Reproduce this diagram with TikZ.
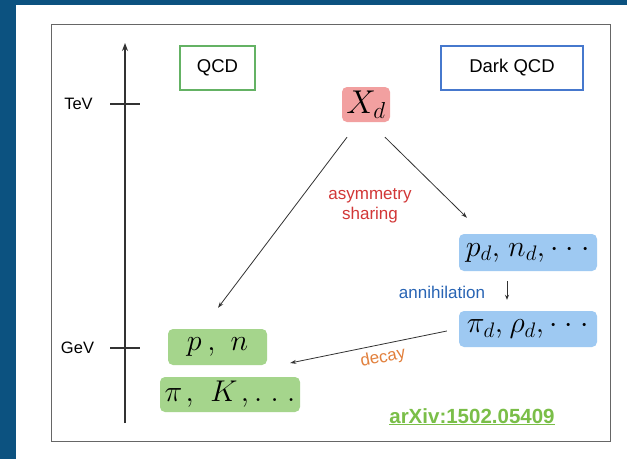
\RequirePackage{fix-cm}
\documentclass[tikz,border=0pt]{standalone}
\usepackage{fontspec}
\setmainfont{Liberation Sans}
\usetikzlibrary{arrows.meta,calc}
\definecolor{bgblue}{RGB}{12,82,128}
\definecolor{qcdgreen}{RGB}{100,178,100}
\definecolor{dqcdblue}{RGB}{70,120,205}
\definecolor{greenfill}{RGB}{165,213,140}
\definecolor{bluefill}{RGB}{158,201,242}
\definecolor{redfill}{RGB}{242,160,160}
\definecolor{labred}{RGB}{210,55,55}
\definecolor{labblue}{RGB}{40,100,180}
\definecolor{laborange}{RGB}{226,128,60}
\definecolor{arxivgreen}{RGB}{122,190,72}
\definecolor{linegray}{RGB}{50,50,50}
\newcommand{\dotsL}{\mathord{.}\mkern5mu\mathord{.}\mkern5mu\mathord{.}}
\newcommand{\dotsC}{\mathord{\cdotp}\mkern4.5mu\mathord{\cdotp}\mkern4.5mu\mathord{\cdotp}}
\tikzset{
  hdrbox/.style={draw, line width=1.1pt, fill=white, minimum height=44pt, inner sep=0pt,
     font=\fontsize{18.5}{20}\selectfont},
  mbox/.style={rounded corners=5pt, inner sep=0pt, minimum height=36pt,
     font=\fontsize{30}{32}\selectfont},
  conn/.style={draw=linegray, line width=0.8pt, -{Stealth[length=6pt,width=4pt]}},
  lab/.style={font=\fontsize{17}{19}\selectfont, inner sep=0pt},
  tick/.style={draw=linegray, line width=1.3pt}
}
\begin{document}
\begin{tikzpicture}[x=1pt,y=-1pt]
\useasboundingbox (0,0) rectangle (627,459);
\fill[bgblue] (0,0) rectangle (627,459);
\fill[white] (16,5) rectangle (627,459);
\draw[gray!80!black, line width=1pt] (51,24) rectangle (610,441);

% axis
\coordinate (axb) at (125,423);
\coordinate (axt) at (125,43);
\draw[linegray, line width=1.5pt, -{Stealth[length=8pt,width=6pt]}] (axb) -- (axt);
\coordinate (tevL) at (110,104);
\coordinate (tevR) at (140,104);
\coordinate (gevL) at (110,348);
\coordinate (gevR) at (140,348);
\draw[tick] (tevL) -- (tevR);
\draw[tick] (gevL) -- (gevR);
\node[lab, font=\fontsize{16.5}{18}\selectfont] (tev) at (78.5,104) {TeV};
\node[lab, font=\fontsize{16.5}{18}\selectfont] (gev) at (77.5,348) {GeV};

% header boxes
\node[hdrbox, draw=qcdgreen, minimum width=75pt] (qcd) at (217.5,68) {QCD};
\node[hdrbox, draw=dqcdblue, minimum width=142pt] (dqcd) at (512,68) {Dark QCD};

% particle boxes
\node[mbox, fill=redfill, minimum width=48pt, minimum height=35pt, font=\fontsize{33}{35}\selectfont] (xd) at (366,104.5) {$X_d$};
\node[mbox, fill=greenfill, minimum width=99pt] (pn) at (217.5,347) {$p\mkern3.5mu,\mkern6mu n$};
\node[mbox, fill=greenfill, minimum width=140pt, minimum height=35pt] (piK) at (230,394.5) {$\pi\mkern2mu,\mkern7mu K\mkern2mu,\dotsL$};
\node[mbox, fill=bluefill, minimum width=138pt, minimum height=37pt] (pdnd) at (528,252.5) {$p_d,\mkern2mu n_d,\dotsC$};
\node[mbox, fill=bluefill, minimum width=138pt] (pid) at (528,329) {$\pi_d,\mkern1mu \rho_d,\dotsC$};

% connectors
\coordinate (a1s) at ($(xd.south)+(-19,15)$);
\coordinate (a1e) at ($(pn.north)+(0.5,-21)$);
\draw[conn] (a1s) -- (a1e);
\coordinate (a2s) at ($(xd.south)+(19,15)$);
\coordinate (a2e) at ($(pdnd.north)+(-61,-16)$);
\draw[conn] (a2s) -- (a2e);
\coordinate (a3s) at ($(pdnd.south)+(-21,10)$);
\coordinate (a3e) at ($(pid.north)+(-21,-11)$);
\draw[conn, -{Stealth[length=5pt,width=4pt]}] (a3s) -- (a3e);
\coordinate (a4s) at ($(pid.west)+(-12,2)$);
\coordinate (a4e) at ($(pn.east)+(23,16)$);
\draw[conn] (a4s) -- (a4e);

% labels
\node[lab, text=labred, align=center, font=\fontsize{17}{20}\selectfont] (asym) at (370,206) {asymmetry\\sharing};
\node[lab, text=labblue] (ann) at (442,292) {annihilation};
\node[lab, text=laborange, rotate=11] (dec) at (383,358) {decay};
\node[lab, text=arxivgreen, font=\fontsize{20.5}{22}\selectfont\bfseries] (arx) at (472,416) {arXiv:1502.05409};
\draw[arxivgreen, line width=1.3pt] ($(arx.south west)+(0,1)$) -- ($(arx.south east)+(0,1)$);
\end{tikzpicture}
\end{document}
